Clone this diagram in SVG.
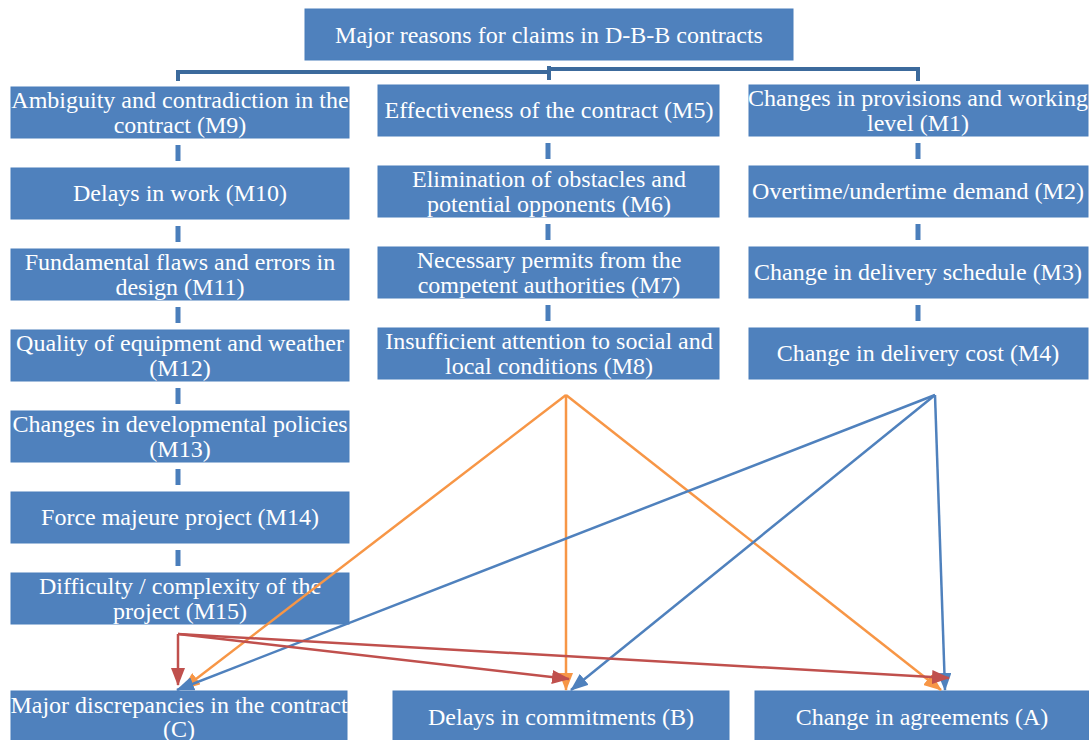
<svg xmlns="http://www.w3.org/2000/svg" width="1089" height="740" viewBox="0 0 1089 740">
<defs>
<style>
.box{fill:#4F81BD;stroke:#4A7EBB;stroke-width:1}
.t{font-family:"Liberation Serif","Times New Roman",serif;font-size:24px;fill:#FFFFFF;text-anchor:middle}
.dash{stroke:#4A7EBB;stroke-width:5;fill:none}
.br{stroke:#3C6A9C;stroke-width:4;fill:none}
.o{stroke:#F79646;stroke-width:2.5;fill:none;marker-end:url(#ao)}
.b{stroke:#4F81BD;stroke-width:2.5;fill:none;marker-end:url(#ab)}
.r{stroke:#C0504D;stroke-width:2.5;fill:none;marker-end:url(#ar)}
</style>
<marker id="ao" markerWidth="18" markerHeight="14" refX="17" refY="7" orient="auto" markerUnits="userSpaceOnUse"><path d="M0,0 L18,7 L0,14 z" fill="#F79646"/></marker>
<marker id="ab" markerWidth="18" markerHeight="14" refX="17" refY="7" orient="auto" markerUnits="userSpaceOnUse"><path d="M0,0 L18,7 L0,14 z" fill="#4F81BD"/></marker>
<marker id="ar" markerWidth="18" markerHeight="14" refX="17" refY="7" orient="auto" markerUnits="userSpaceOnUse"><path d="M0,0 L18,7 L0,14 z" fill="#C0504D"/></marker>
</defs>
<rect width="1089" height="740" fill="#FFFFFF"/>

<g id="root"><rect class="box" x="305" y="9" width="488" height="51"/><text class="t" x="549" y="43">Major reasons for claims in D-B-B contracts</text></g>

<g id="M9"><rect class="box" x="11" y="87" width="338" height="51"/><text class="t" x="180" y="108">Ambiguity and contradiction in the</text><text class="t" x="180" y="133">contract (M9)</text></g>
<g id="M10"><rect class="box" x="11" y="168" width="338" height="51"/><text class="t" x="180" y="201">Delays in work (M10)</text></g>
<g id="M11"><rect class="box" x="11" y="249" width="338" height="51"/><text class="t" x="180" y="270">Fundamental flaws and errors in</text><text class="t" x="180" y="295">design (M11)</text></g>
<g id="M12"><rect class="box" x="11" y="330" width="338" height="51"/><text class="t" x="180" y="351">Quality of equipment and weather</text><text class="t" x="180" y="376">(M12)</text></g>
<g id="M13"><rect class="box" x="11" y="411" width="338" height="51"/><text class="t" x="180" y="432">Changes in developmental policies</text><text class="t" x="180" y="457">(M13)</text></g>
<g id="M14"><rect class="box" x="11" y="492" width="338" height="51"/><text class="t" x="180" y="525">Force majeure project (M14)</text></g>
<g id="M15"><rect class="box" x="11" y="573" width="338" height="51"/><text class="t" x="180" y="594">Difficulty / complexity of the</text><text class="t" x="180" y="619">project (M15)</text></g>

<g id="M5"><rect class="box" x="378" y="85" width="341" height="51"/><text class="t" x="549" y="118">Effectiveness of the contract (M5)</text></g>
<g id="M6"><rect class="box" x="378" y="166" width="341" height="51"/><text class="t" x="549" y="187">Elimination of obstacles and</text><text class="t" x="549" y="212">potential opponents (M6)</text></g>
<g id="M7"><rect class="box" x="378" y="247" width="341" height="51"/><text class="t" x="549" y="268">Necessary permits from the</text><text class="t" x="549" y="293">competent authorities (M7)</text></g>
<g id="M8"><rect class="box" x="378" y="328" width="341" height="51"/><text class="t" x="549" y="349">Insufficient attention to social and</text><text class="t" x="549" y="374">local conditions (M8)</text></g>

<g id="M1"><rect class="box" x="749" y="85" width="339" height="51"/><text class="t" x="918" y="106">Changes in provisions and working</text><text class="t" x="918" y="131">level (M1)</text></g>
<g id="M2"><rect class="box" x="749" y="166" width="339" height="51"/><text class="t" x="918" y="199">Overtime/undertime demand (M2)</text></g>
<g id="M3"><rect class="box" x="749" y="247" width="339" height="51"/><text class="t" x="918" y="280">Change in delivery schedule (M3)</text></g>
<g id="M4"><rect class="box" x="749" y="328" width="339" height="51"/><text class="t" x="918" y="361">Change in delivery cost (M4)</text></g>

<g id="C"><rect class="box" x="11" y="691" width="336" height="55"/><text class="t" x="179" y="713">Major discrepancies in the contract</text><text class="t" x="179" y="737">(C)</text></g>
<g id="B"><rect class="box" x="393" y="691" width="336" height="55"/><text class="t" x="561" y="725">Delays in commitments (B)</text></g>
<g id="A"><rect class="box" x="755" y="691" width="334" height="55"/><text class="t" x="922" y="725">Change in agreements (A)</text></g>

<g id="connectors">
<path class="br" d="M178,81 V72 H549"/>
<path class="br" d="M549,66 V80"/>
<path class="br" d="M549,69 H918 V81"/>
<path class="dash" d="M178,145 V161 M178,226 V242 M178,307 V323 M178,388 V404 M178,469 V485 M178,550 V566"/>
<path class="dash" d="M548,143 V159 M548,224 V240 M548,305 V321"/>
<path class="dash" d="M918,143 V159 M918,224 V240 M918,305 V321"/>
<line class="o" x1="566" y1="395" x2="183" y2="689"/>
<line class="o" x1="566" y1="395" x2="566" y2="690"/>
<line class="o" x1="566" y1="395" x2="941" y2="690"/>
<line class="b" x1="935" y1="395" x2="177" y2="690"/>
<line class="b" x1="935" y1="395" x2="571" y2="690"/>
<line class="b" x1="935" y1="395" x2="945" y2="690"/>
<path class="r" d="M178,634 V685"/>
<line class="r" x1="178" y1="634" x2="569" y2="679"/>
<line class="r" x1="178" y1="634" x2="949" y2="678"/>
</g>
</svg>
